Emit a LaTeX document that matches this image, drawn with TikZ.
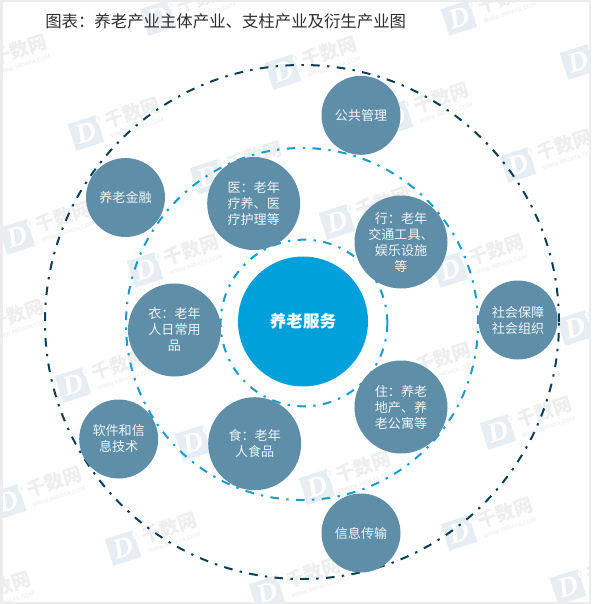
\documentclass[tikz,border=0pt]{standalone}
\usepackage{fontspec}
\newfontfamily\cjk{Noto Sans CJK SC}
\newfontfamily\wmlatin{Liberation Sans}
\newfontfamily\wmserif{Liberation Serif}
\definecolor{bubble}{HTML}{5F8EA8}
\definecolor{coreblue}{HTML}{00A0DA}
\definecolor{ringmid}{HTML}{1A9CCB}
\definecolor{ringout}{HTML}{0B3F57}
\definecolor{wmbox}{HTML}{E6EEF3}
\definecolor{wmtext}{HTML}{EEEEEE}
\definecolor{wmurl}{HTML}{F0F0F0}
\definecolor{framegray}{HTML}{ECECEC}
\tikzset{
  bubblebase/.style={circle,fill=bubble,text=white!90!bubble,align=center,inner sep=0pt,
    font=\cjk\fontsize{9.8}{12}\selectfont},
  bigbubble/.style={bubblebase,minimum size=69.75pt},
  smallbubble/.style={bubblebase,minimum size=59.25pt},
  corebubble/.style={circle,fill=coreblue,text=white,align=center,inner sep=0pt,minimum size=97.5pt,
    font=\cjk\bfseries\fontsize{12.4}{15}\selectfont},
  ringstyle/.style={circle,draw=#1,line width=1.5pt,fill=none,inner sep=0pt,
    dash pattern=on 6.5pt off 5.5pt on 1.8pt off 5.5pt},
  wmicon/.style={rectangle,fill=wmbox,rotate=18,minimum width=22pt,minimum height=21pt,inner sep=0pt,
    text=white,font=\wmserif\bfseries\itshape\fontsize{21}{21}\selectfont},
  wmthree/.style={rotate=18,text=wmbox,fill=white,inner sep=0.4pt,font=\wmlatin\fontsize{5}{5}\selectfont},
  wmname/.style={rotate=18,text=wmtext,inner sep=0pt,font=\cjk\bfseries\fontsize{14.2}{15}\selectfont},
  wmweb/.style={rotate=18,text=wmurl,inner sep=0pt,font=\wmlatin\bfseries\fontsize{4.4}{5}\selectfont},
  titlestyle/.style={text=black!82,inner sep=0pt,font=\cjk\fontsize{12.3}{14}\selectfont},
}
\newcommand{\wmark}[3]{%
  \node[wmicon] (wmd#1) at (#2,#3) {D};
  \node[wmthree] (wmt#1) at ([shift={(12.5,-13)}]#2,#3) {3};
  \node[wmname] (wmn#1) at ([shift={(46,-20)}]#2,#3) {千数网};
  \node[wmweb] (wmu#1) at ([shift={(51,-5)}]#2,#3) {WWW.98DATA.COM};
}
\begin{document}
\begin{tikzpicture}[x=0.75pt,y=-0.75pt]
\useasboundingbox (0,0) rectangle (600,604);
\fill[white] (0,0) rectangle (600,604);
\begin{scope}
\clip (2,1) rectangle (590,602);
\wmark{a}{158}{18}
\wmark{b}{459}{18}
\wmark{c}{-27}{70}
\wmark{d}{283}{72}
\wmark{e}{578}{62}
\wmark{f}{395}{118}
\wmark{g}{86}{133}
\wmark{h}{518}{165}
\wmark{i}{208}{177}
\wmark{j}{337}{222}
\wmark{k}{17}{237}
\wmark{l}{145}{270}
\wmark{m}{450}{270}
\wmark{n}{-30}{335}
\wmark{o}{575}{328}
\wmark{p}{397}{378}
\wmark{q}{73}{385}
\wmark{r}{498}{432}
\wmark{s}{193}{443}
\wmark{t}{317}{487}
\wmark{u}{8}{502}
\wmark{v}{459}{533}
\wmark{w}{123}{548}
\wmark{x}{267}{593}
\wmark{y}{568}{587}
\wmark{z}{-43}{607}
\end{scope}
\draw[framegray,line width=1.5pt] (1.5,0.5) rectangle (590,602.5);
\node[titlestyle,anchor=west] (title) at (45,21) {图表：养老产业主体产业、支柱产业及衍生产业图};
\node[ringstyle=ringout,minimum size=385.5pt] (outerring) at (302,322) {};
\node[ringstyle=ringmid,minimum size=264pt] (midring) at (302,324) {};
\node[ringstyle=ringmid,minimum size=125pt] (innerring) at (304,323) {};
\node[corebubble] (core) at (303,321.5) {养老服务};
\node[smallbubble] (gov) at (361,115.3) {公共管理};
\node[smallbubble] (fin) at (125.5,197.5) {养老金融};
\node[bigbubble] (med) at (253.7,203.5) {医：老年\\疗养、医\\疗护理等};
\node[bigbubble] (trav) at (401,242) {行：老年\\交通工具、\\娱乐设施\\等};
\node[smallbubble] (soc) at (518,320) {社会保障\\社会组织};
\node[bigbubble] (home) at (401,407) {住：养老\\地产、养\\老公寓等};
\node[smallbubble] (info) at (361,533) {信息传输};
\node[bigbubble] (food) at (254.7,443.7) {食：老年\\人食品};
\node[smallbubble] (soft) at (118.7,439) {软件和信\\息技术};
\node[bigbubble] (cloth) at (174.5,330) {衣：老年\\人日常用\\品};
\end{tikzpicture}
\end{document}
